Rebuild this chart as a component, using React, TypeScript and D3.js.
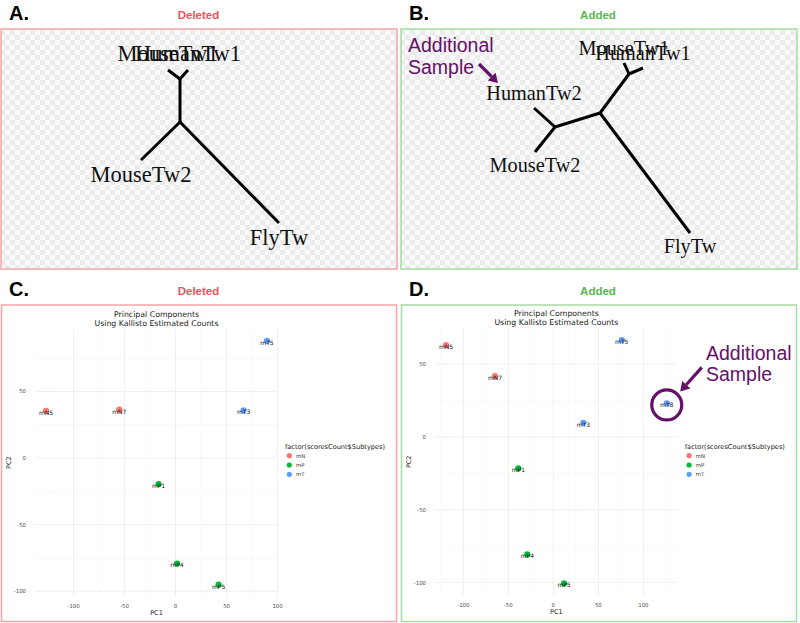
import React from "react";
import * as d3 from "d3";

// ---------- PCA data ----------
const subtypeLevels = ["mN", "mP", "mT"];
const subtypeColors = ["#F8766D", "#00BA38", "#619CFF"];

const samplesC = ["mN5", "mN7", "mT5", "mT3", "mP1", "mP4", "mP5"];
const subtypesC = ["mN", "mN", "mT", "mT", "mP", "mP", "mP"];
const pc1C = [-127, -55.2, 89.6, 66.7, -16.7, 1.4, 42.2];
const pc2C = [35.5, 36.3, 88, 35.8, -19.5, -79.2, -95];

const samplesD = ["mN5", "mN7", "mT5", "mT8", "mT3", "mP1", "mP4", "mP5"];
const subtypesD = ["mN", "mN", "mT", "mT", "mT", "mP", "mP", "mP"];
const pc1D = [-119.2, -64.8, 76, 126, 33.3, -38.9, -28.9, 11.9];
const pc2D = [62.9, 41.6, 66.3, 22.9, 9.6, -21.7, -80.7, -100.6];

const pcTitle = ["Principal Components", "Using Kallisto Estimated Counts"];
const legendTitle = "factor(scoresCount$Subtypes)";

// ---------- Tree data (layout units) ----------
const treeANames = ["root", "inner", "MouseTw1", "HumanTw1", "MouseTw2", "FlyTw"];
const treeAX = [179, 179, 167, 187, 140, 278];
const treeAY = [93, 50, 41, 41, 131, 194];
const treeAParent = [-1, 0, 1, 1, 0, 0];

const treeBNames = ["root", "inner1", "MouseTw1", "HumanTw1", "inner2", "HumanTw2", "MouseTw2", "FlyTw"];
const treeBX = [199, 228, 223, 242, 154, 133, 134, 289];
const treeBY = [84, 45, 34, 39, 98, 79, 123, 204];
const treeBParent = [-1, 0, 1, 1, 0, 4, 4, 0];

const PURPLE = "#650f68";
const RED = "#f0525a";
const GREEN = "#55b84f";
const SANS = "'Liberation Sans', Arial, sans-serif";
const GG = "'DejaVu Sans', sans-serif";

type Box = { x: number; y: number; w: number; h: number };

function Tree({ box, names, xs, ys, parents, fontSize, belowOff }: any) {
  const sx = d3.scaleLinear().domain([0, box.w]).range([box.x, box.x + box.w]);
  const sy = d3.scaleLinear().domain([0, box.h]).range([box.y, box.y + box.h]);
  const isTip = names.map((_: string, i: number) => !parents.includes(i));
  return (
    <g>
      {names.map((n: string, i: number) =>
        parents[i] < 0 ? null : (
          <line
            key={"e" + i}
            x1={sx(xs[parents[i]])}
            y1={sy(ys[parents[i]])}
            x2={sx(xs[i])}
            y2={sy(ys[i])}
            stroke="#000"
            strokeWidth={3}
            strokeLinecap="butt"
          />
        )
      )}
      {names.map((n: string, i: number) => {
        if (!isTip[i]) return null;
        const up = ys[i] < ys[parents[i]];
        return (
          <text
            key={"t" + i}
            x={sx(xs[i])}
            y={up ? sy(ys[i]) - fontSize * 0.38 : sy(ys[i]) + belowOff}
            textAnchor="middle"
            fontFamily="'Liberation Serif', 'Times New Roman', serif"
            fontSize={fontSize}
            fill="#111"
          >
            {n}
          </text>
        );
      })}
    </g>
  );
}

function PCA({ panel, samples, subtypes, pc1, pc2, pc2LabelX, tickRight, children }: any) {
  const ext = (a: number[]) => {
    const [lo, hi] = d3.extent(a) as [number, number];
    const e = (hi - lo) * 0.05;
    return [lo - e, hi + e];
  };
  const x = d3.scaleLinear().domain(ext(pc1)).range([panel.x0, panel.x1]);
  const y = d3.scaleLinear().domain(ext(pc2)).range([panel.y1, panel.y0]);
  const col = d3.scaleOrdinal<string, string>().domain(subtypeLevels).range(subtypeColors);
  const xd = x.domain();
  const yd = y.domain();
  const xMajor = d3.range(-150, 151, 50).filter((v) => v >= xd[0] && v <= xd[1]);
  const yMajor = d3.range(-150, 151, 50).filter((v) => v >= yd[0] && v <= yd[1]);
  const xMinor = d3.range(-125, 151, 50).filter((v) => v >= xd[0] && v <= xd[1]);
  const yMinor = d3.range(-125, 151, 50).filter((v) => v >= yd[0] && v <= yd[1]);
  const cx = (panel.x0 + panel.x1) / 2;
  const legX = panel.x1 + 7;
  return (
    <g>
      {xMinor.map((v) => (
        <line key={"xm" + v} x1={x(v)} x2={x(v)} y1={panel.y0} y2={panel.y1} stroke="#f3f3f3" strokeWidth={0.5} />
      ))}
      {yMinor.map((v) => (
        <line key={"ym" + v} y1={y(v)} y2={y(v)} x1={panel.x0} x2={panel.x1} stroke="#f3f3f3" strokeWidth={0.5} />
      ))}
      {xMajor.map((v) => (
        <line key={"xM" + v} x1={x(v)} x2={x(v)} y1={panel.y0} y2={panel.y1} stroke="#ebebeb" strokeWidth={0.8} />
      ))}
      {yMajor.map((v) => (
        <line key={"yM" + v} y1={y(v)} y2={y(v)} x1={panel.x0} x2={panel.x1} stroke="#ebebeb" strokeWidth={0.8} />
      ))}
      {xMajor.map((v) => (
        <text key={"xt" + v} x={x(v)} y={panel.y1 + 11.5} textAnchor="middle" fontFamily={GG} fontSize={5.4} fill="#4d4d4d">
          {v}
        </text>
      ))}
      {yMajor.map((v) => (
        <text key={"yt" + v} x={tickRight} y={y(v) + 2} textAnchor="end" fontFamily={GG} fontSize={5.4} fill="#4d4d4d">
          {v}
        </text>
      ))}
      <text x={cx} y={panel.y1 + 18.5} textAnchor="middle" fontFamily={GG} fontSize={6.5} fill="#222">
        PC1
      </text>
      <text
        transform={`translate(${pc2LabelX},${(panel.y0 + panel.y1) / 2}) rotate(-90)`}
        textAnchor="middle"
        fontFamily={GG}
        fontSize={6.5}
        fill="#222"
      >
        PC2
      </text>
      {pcTitle.map((t, i) => (
        <text key={t} x={cx} y={panel.y0 - 12 + i * 9} textAnchor="middle" fontFamily={GG} fontSize={7.8} fill="#222">
          {t}
        </text>
      ))}
      {samples.map((s: string, i: number) => (
        <circle key={"p" + s} cx={x(pc1[i])} cy={y(pc2[i])} r={3.1} fill={col(subtypes[i])} />
      ))}
      {samples.map((s: string, i: number) => (
        <text key={"l" + s} x={x(pc1[i])} y={y(pc2[i]) + 4} textAnchor="middle" fontFamily={GG} fontSize={6} fill="#111">
          {s}
        </text>
      ))}
      <text x={legX} y={449} fontFamily={GG} fontSize={6.6} fill="#222">
        {legendTitle}
      </text>
      {subtypeLevels.map((s, i) => (
        <g key={"lg" + s}>
          <circle cx={legX + 4.3} cy={455.7 + i * 9.3} r={2.6} fill={col(s)} />
          <text x={legX + 11} y={455.7 + i * 9.3 + 2} fontFamily={GG} fontSize={5.3} fill="#333">
            {s}
          </text>
        </g>
      ))}
      {children ? children(x, y) : null}
    </g>
  );
}

export default function App() {
  const boxA: Box = { x: 1, y: 29, w: 396, h: 240 };
  const boxB: Box = { x: 401, y: 29, w: 396, h: 240 };
  const boxC: Box = { x: 1.5, y: 305, w: 395, h: 316.5 };
  const boxD: Box = { x: 401.5, y: 305, w: 395, h: 316.5 };
  const head = (x: number, y: number, letter: string, label: string, color: string, cxm: number) => (
    <g>
      <text x={x} y={y} fontFamily={SANS} fontWeight="bold" fontSize={20} fill="#000">
        {letter}
      </text>
      <text x={cxm} y={y - 1} textAnchor="middle" fontFamily={SANS} fontWeight="bold" fontSize={11.5} fill={color}>
        {label}
      </text>
    </g>
  );
  const arrowHead = (x1: number, y1: number, x2: number, y2: number, len: number, half: number) => {
    const a = Math.atan2(y2 - y1, x2 - x1);
    const bx = x2 - len * Math.cos(a);
    const by = y2 - len * Math.sin(a);
    const px = -Math.sin(a) * half;
    const py = Math.cos(a) * half;
    return (
      <g>
        <line x1={x1} y1={y1} x2={bx} y2={by} stroke={PURPLE} strokeWidth={3.2} />
        <polygon points={`${x2},${y2} ${bx + px},${by + py} ${bx - px},${by - py}`} fill={PURPLE} />
      </g>
    );
  };
  const mt8 = samplesD.indexOf("mT8");
  return (
    <div style={{ position: "fixed", left: 0, top: 0 }}>
      <svg width={800} height={623} style={{ display: "block", background: "#fff" }}>
        <defs>
          <pattern id="checker" width={10} height={10} patternUnits="userSpaceOnUse">
            <rect width={10} height={10} fill="#fafafa" />
            <rect width={5} height={5} fill="#ebebeb" />
            <rect x={5} y={5} width={5} height={5} fill="#ebebeb" />
          </pattern>
        </defs>
        {head(9, 20, "A.", "Deleted", RED, 198.5)}
        {head(409, 20, "B.", "Added", GREEN, 598)}
        {head(9, 296, "C.", "Deleted", RED, 198.5)}
        {head(409, 296, "D.", "Added", GREEN, 598)}

        <rect x={boxA.x} y={boxA.y} width={boxA.w} height={boxA.h} fill="url(#checker)" stroke="#f5a5a5" strokeWidth={1.5} />
        <rect x={boxB.x} y={boxB.y} width={boxB.w} height={boxB.h} fill="url(#checker)" stroke="#a5dba5" strokeWidth={1.5} />
        <rect x={boxC.x} y={boxC.y} width={boxC.w} height={boxC.h} fill="#fff" stroke="#f5a5a5" strokeWidth={1.5} />
        <rect x={boxD.x} y={boxD.y} width={boxD.w} height={boxD.h} fill="#fff" stroke="#a5dba5" strokeWidth={1.5} />

        <Tree box={boxA} names={treeANames} xs={treeAX} ys={treeAY} parents={treeAParent} fontSize={22.5} belowOff={22} />
        <Tree box={boxB} names={treeBNames} xs={treeBX} ys={treeBY} parents={treeBParent} fontSize={20.3} belowOff={19.5} />

        {/* Annotation B */}
        <text x={408} y={52} fontFamily={SANS} fontSize={19.5} fill={PURPLE}>
          Additional
        </text>
        <text x={408} y={74} fontFamily={SANS} fontSize={19.5} fill={PURPLE}>
          Sample
        </text>
        {arrowHead(479, 64, 498, 83, 9, 5.5)}

        <PCA
          panel={{ x0: 35, x1: 278, y0: 328.7, y1: 596.7 }}
          samples={samplesC}
          subtypes={subtypesC}
          pc1={pc1C}
          pc2={pc2C}
          pc2LabelX={11}
          tickRight={26}
        />
        <PCA
          panel={{ x0: 435, x1: 677.8, y0: 328, y1: 595.6 }}
          samples={samplesD}
          subtypes={subtypesD}
          pc1={pc1D}
          pc2={pc2D}
          pc2LabelX={411}
          tickRight={426}
        >
          {(x: any, y: any) => {
            const px = x(pc1D[mt8]);
            const py = y(pc2D[mt8]);
            return (
              <g>
                <circle cx={px} cy={py + 1.5} r={15} fill="none" stroke={PURPLE} strokeWidth={3.2} />
                {arrowHead(px + 35, py - 36, px + 13.5, py - 12, 9, 5.5)}
                <text x={706} y={360} fontFamily={SANS} fontSize={19.5} fill={PURPLE}>
                  Additional
                </text>
                <text x={706} y={381} fontFamily={SANS} fontSize={19.5} fill={PURPLE}>
                  Sample
                </text>
              </g>
            );
          }}
        </PCA>
      </svg>
    </div>
  );
}
